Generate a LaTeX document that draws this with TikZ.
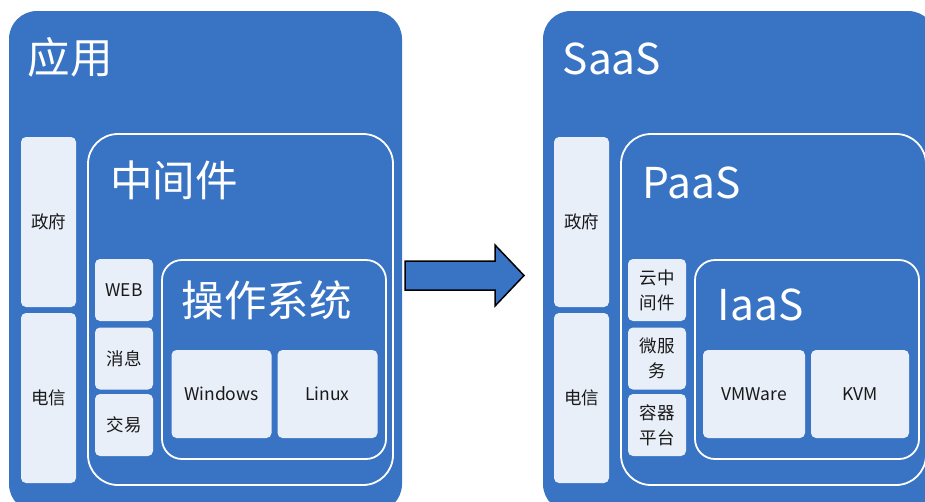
\documentclass[tikz,border=0pt]{standalone}
\usepackage{fontspec}
\setmainfont{Noto Sans CJK SC}
\definecolor{boxblue}{HTML}{3873C4}
\definecolor{boxlight}{HTML}{E9EFF8}

\begin{document}
\begin{tikzpicture}[x=1pt,y=-1pt,
	cellbox/.style={fill=boxlight, rounded corners=5pt, inner sep=0pt, text=black!90, align=center, font=\fontsize{17.5}{25}\selectfont},
	framebox/.style={draw=white, line width=1.8pt, rounded corners=#1},
	titletext/.style={anchor=west, inner sep=0pt, text=white, font=\fontsize{42.5}{50}\selectfont}]
	\clip (0,0) rectangle (925,501);
	\fill[white] (0,0) rectangle (925,501);
	% left half
	\fill[boxblue, rounded corners=28pt] (9,11) rectangle (402,512);
	\node[titletext] (app) at (27.5,57) {应用};
	\node[cellbox, minimum width=55pt, minimum height=170pt] (gov) at (48.5,222) {政府};
	\node[cellbox, minimum width=55pt, minimum height=170pt] (tel) at (48.5,398) {电信};
	\draw[framebox=30pt] (88,134) rectangle (393,485);
	\node[titletext] (mw) at (110,180) {中间件};
	\node[cellbox, minimum width=58pt, minimum height=62pt] (web) at (124,290) {WEB};
	\node[cellbox, minimum width=58pt, minimum height=62pt] (msg) at (124,358.5) {消息};
	\node[cellbox, minimum width=58pt, minimum height=62pt] (trade) at (124,425) {交易};
	\draw[framebox=20pt] (162,260) rectangle (386,459);
	\node[titletext] (os) at (181.5,300) {操作系统};
	\node[cellbox, minimum width=100pt, minimum height=88pt] (win) at (221.5,394) {Windows};
	\node[cellbox, minimum width=100pt, minimum height=88pt] (linux) at (327.5,394) {Linux};
	% arrow
	\draw[fill=boxblue, draw=black, line width=1.5pt, line join=miter] (405,261) -- (495,261) -- (495,245) -- (524,275.5) -- (495,306) -- (495,290) -- (405,290) -- cycle;
	% right half
	\fill[boxblue, rounded corners=28pt] (543,11) rectangle (936,512);
	\node[titletext] (saas) at (562.5,59) {SaaS};
	\node[cellbox, minimum width=55pt, minimum height=170pt] (gov2) at (581.5,222) {政府};
	\node[cellbox, minimum width=55pt, minimum height=170pt] (tel2) at (581.5,398) {电信};
	\draw[framebox=30pt] (621,134) rectangle (926,485);
	\node[titletext] (paas) at (642.5,183) {PaaS};
	\node[cellbox, minimum width=58pt, minimum height=62pt] (cloudmw) at (657,290) {云中\\间件};
	\node[cellbox, minimum width=58pt, minimum height=62pt] (micro) at (657,358.5) {微服\\务};
	\node[cellbox, minimum width=58pt, minimum height=62pt] (container) at (657,425) {容器\\平台};
	\draw[framebox=20pt] (695,260) rectangle (919,459);
	\node[titletext] (iaas) at (717.5,305) {IaaS};
	\node[cellbox, minimum width=102pt, minimum height=88pt] (vmware) at (754,394) {VMWare};
	\node[cellbox, minimum width=98pt, minimum height=88pt] (kvm) at (860,394) {KVM};
\end{tikzpicture}
\end{document}
